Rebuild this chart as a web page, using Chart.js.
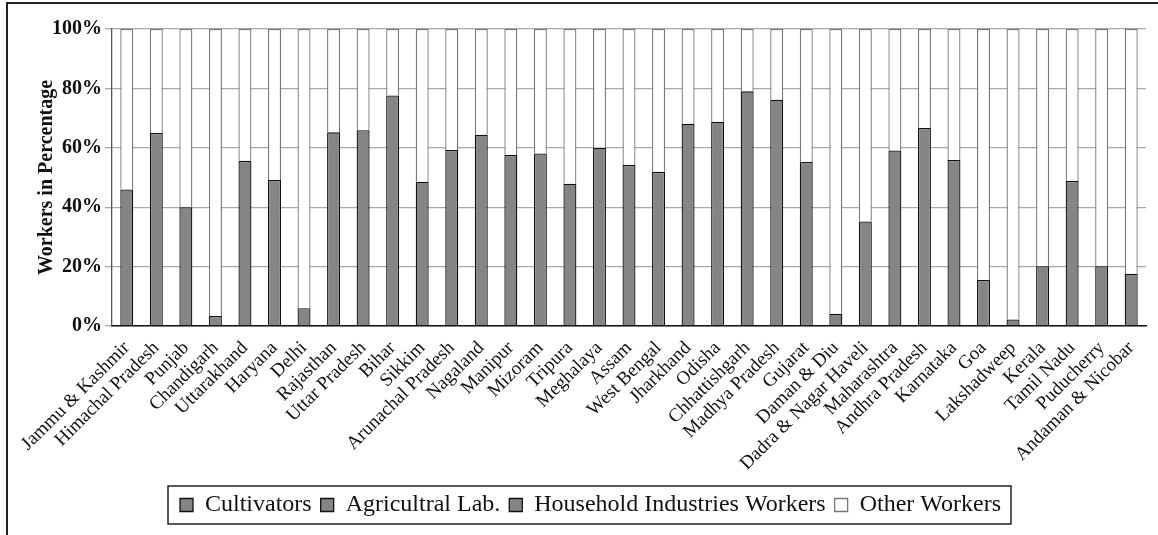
<!DOCTYPE html>
<html>
<head>
<meta charset="utf-8">
<script src="https://cdn.jsdelivr.net/npm/chart.js@4"></script>
<style>
  body { margin: 0; background: #fff; }
  #frame { position: absolute; left: 6px; top: 2px; width: 1200px; height: 600px;
           border-top: 2px solid #222; border-left: 2px solid #222; }
  #wrap { position: absolute; left: 0; top: 0; width: 1158px; height: 535px; }
</style>
</head>
<body>
<div id="frame"></div>
<div id="wrap"><canvas id="canvas" width="1158" height="535"></canvas></div>
<script>
let states = ['Jammu & Kashmir', 'Himachal Pradesh', 'Punjab', 'Chandigarh', 'Uttarakhand', 'Haryana',
  'Delhi', 'Rajasthan', 'Uttar Pradesh', 'Bihar', 'Sikkim', 'Arunachal Pradesh', 'Nagaland', 'Manipur',
  'Mizoram', 'Tripura', 'Meghalaya', 'Assam', 'West Bengal', 'Jharkhand', 'Odisha', 'Chhattishgarh',
  'Madhya Pradesh', 'Gujarat', 'Daman & Diu', 'Dadra & Nagar Haveli', 'Maharashtra', 'Andhra Pradesh',
  'Karnataka', 'Goa', 'Lakshadweep', 'Kerala', 'Tamil Nadu', 'Puducherry', 'Andaman & Nicobar'];

// the three grey series are drawn in one grey with no dividing line, so only their
// combined height can be read; it is kept in the first one
let cultivators = [46, 65, 40, 3.4, 55.6, 49.2, 6, 65.2, 65.9, 77.6, 48.6, 59.3, 64.4, 57.6,
  58.1, 47.9, 60, 54.2, 51.9, 68.1, 68.8, 79, 76.2, 55.2, 4.1, 35.2, 59.1, 66.7,
  55.9, 15.5, 2.2, 20.1, 48.8, 20.1, 17.6];
let agriLab   = states.map(() => 0);
let household = states.map(() => 0);
let other = [54, 35, 60, 96.6, 44.4, 50.8, 94, 34.8, 34.1, 22.4, 51.4, 40.7, 35.6, 42.4,
  41.9, 52.1, 40, 45.8, 48.1, 31.9, 31.2, 21, 23.8, 44.8, 95.9, 64.8, 40.9, 33.3,
  44.1, 84.5, 97.8, 79.9, 51.2, 79.9, 82.4];
let yTicks = [0, 20, 40, 60, 80, 100];

const grey = '#858585';
const serif = "'Liberation Serif', 'DejaVu Serif', serif";

function greySet(label, data) {
  return { label: label, data: data, backgroundColor: grey, borderColor: '#111',
           borderWidth: 1.3, barPercentage: 0.44, categoryPercentage: 1 };
}

// рамка вокруг легенды
const legendBox = {
  id: 'legendBox',
  afterDraw(chart) {
    let boxes = chart.legend.legendHitBoxes;
    if (!boxes || !boxes.length) return;
    let l = Math.min(...boxes.map(b => b.left)) - 12;
    let r = Math.max(...boxes.map(b => b.left + b.width)) + 10;
    let t = Math.min(...boxes.map(b => b.top)) - 7;
    let btm = Math.max(...boxes.map(b => b.top + b.height)) + 7;
    let ctx = chart.ctx;
    ctx.save();
    ctx.strokeStyle = '#222';
    ctx.lineWidth = 1.5;
    ctx.strokeRect(l, t, r - l, btm - t);
    ctx.restore();
  }
};

let ctx = document.getElementById('canvas').getContext('2d');
new Chart(ctx, {
  type: 'bar',
  data: {
    labels: states,
    datasets: [
      greySet('Cultivators', cultivators),
      greySet('Agricultral Lab.', agriLab),
      greySet('Household Industries Workers', household),
      { label: 'Other Workers', data: other, backgroundColor: '#fff', borderColor: '#777',
        borderWidth: 1.3, barPercentage: 0.44, categoryPercentage: 1 }
    ]
  },
  options: {
    responsive: false,
    animation: false,
    layout: { padding: { top: 29, right: 12, left: 35, bottom: 8 } },
    plugins: {
      tooltip: { enabled: false },
      legend: {
        position: 'bottom',
        labels: {
          boxWidth: 13, boxHeight: 13, padding: 9, color: '#111',
          font: { family: serif, size: 24 }
        }
      }
    },
    scales: {
      x: {
        stacked: true,
        grid: { display: false },
        border: { color: '#111', width: 1.5 },
        ticks: { color: '#111', maxRotation: 45, minRotation: 45, autoSkip: false,
                 font: { family: serif, size: 19 }, padding: 3 },
        afterFit(scale) { scale.height = 158; }
      },
      y: {
        stacked: true,
        min: 0, max: 100,
        afterBuildTicks(scale) { scale.ticks = yTicks.map(v => ({ value: v })); },
        grid: { color: '#aaa', lineWidth: 1.3, tickLength: 7, tickColor: '#aaa' },
        border: { color: '#555', width: 1.3 },
        ticks: { color: '#111', padding: 3, font: { family: serif, size: 20, weight: 'bold' },
                 callback: v => v + '%' },
        title: { display: true, text: 'Workers in Percentage', color: '#111', padding: 0,
                 font: { family: serif, size: 20, weight: 'bold' } },
        afterFit(scale) { scale.width = 77; }
      }
    }
  },
  plugins: [legendBox]
});
</script>
</body>
</html>
